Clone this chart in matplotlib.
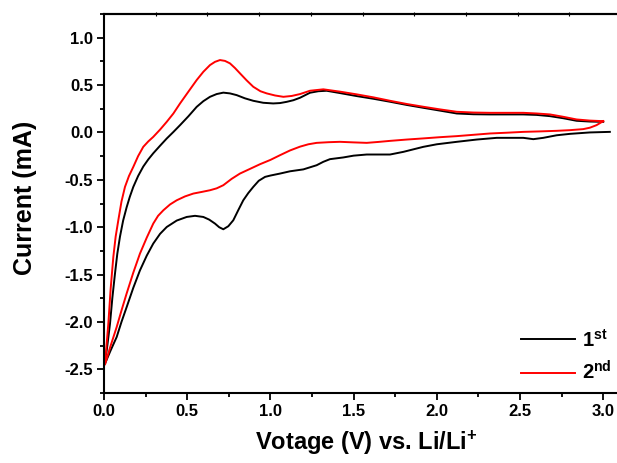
import matplotlib
matplotlib.use("Agg")
import matplotlib.pyplot as plt
import numpy as np

plt.rcParams['font.family'] = ['Liberation Sans', 'DejaVu Sans']
plt.rcParams['font.weight'] = 'bold'
plt.rcParams['mathtext.fontset'] = 'custom'
plt.rcParams['mathtext.rm'] = 'Liberation Sans:bold'
plt.rcParams['mathtext.bf'] = 'Liberation Sans:bold'
plt.rcParams['mathtext.it'] = 'Liberation Sans:bold'

# ---- data: 1st cycle (black) ----
c1_cath_v = [3.04, 2.92, 2.80, 2.72, 2.64, 2.58, 2.52, 2.36, 2.24, 2.12, 2.0, 1.919, 1.799,
             1.719, 1.579, 1.50, 1.438, 1.358, 1.318, 1.278, 1.198, 1.118, 1.058, 1.0,
             0.968, 0.93, 0.897, 0.867, 0.837, 0.807, 0.777, 0.747, 0.717, 0.692, 0.667,
             0.632, 0.597, 0.547, 0.497, 0.437, 0.377, 0.337, 0.296, 0.257, 0.216, 0.176,
             0.136, 0.105, 0.076, 0.04, 0.006]
c1_cath_i = [0.006, 0.0, -0.015, -0.03, -0.057, -0.071, -0.057, -0.057, -0.075, -0.099,
             -0.125, -0.152, -0.205, -0.233, -0.233, -0.245, -0.264, -0.282, -0.31, -0.346,
             -0.39, -0.41, -0.434, -0.455, -0.469, -0.51, -0.575, -0.64, -0.716, -0.82,
             -0.927, -0.99, -1.022, -1.0, -0.962, -0.92, -0.892, -0.88, -0.892, -0.93,
             -0.998, -1.07, -1.173, -1.30, -1.456, -1.64, -1.844, -2.0, -2.16, -2.30, -2.44]
c1_anod_v = [0.006, 0.02, 0.036, 0.05, 0.066, 0.08, 0.096, 0.115, 0.136, 0.155, 0.176, 0.205,
             0.236, 0.266, 0.296, 0.337, 0.377, 0.417, 0.457, 0.507, 0.557, 0.597, 0.637,
             0.677, 0.717, 0.757, 0.797, 0.847, 0.897, 0.957, 1.017, 1.058, 1.098, 1.138,
             1.178, 1.238, 1.288, 1.338, 1.42, 1.518, 1.62, 1.719, 1.82, 1.919, 2.02, 2.12,
             2.22, 2.32, 2.42, 2.52, 2.6, 2.68, 2.76, 2.84, 2.92, 3.0]
c1_anod_i = [-2.44, -2.25, -2.02, -1.75, -1.49, -1.28, -1.10, -0.93, -0.79, -0.68, -0.575,
             -0.46, -0.36, -0.285, -0.22, -0.14, -0.064, 0.005, 0.077, 0.17, 0.27, 0.33,
             0.376, 0.405, 0.42, 0.412, 0.394, 0.36, 0.334, 0.313, 0.306, 0.31, 0.323, 0.34,
             0.366, 0.419, 0.435, 0.44, 0.415, 0.384, 0.355, 0.324, 0.29, 0.26, 0.23, 0.20,
             0.192, 0.19, 0.19, 0.19, 0.185, 0.172, 0.15, 0.123, 0.115, 0.112]

# ---- data: 2nd cycle (red) ----
c2_cath_v = [3.0, 2.96, 2.92, 2.88, 2.80, 2.72, 2.62, 2.52, 2.42, 2.32, 2.22, 2.12, 2.02,
             1.919, 1.82, 1.719, 1.65, 1.579, 1.50, 1.418, 1.35, 1.278, 1.228, 1.178, 1.118,
             1.058, 1.0, 0.938, 0.877, 0.817, 0.767, 0.717, 0.677, 0.637, 0.587, 0.537,
             0.487, 0.437, 0.397, 0.357, 0.325, 0.296, 0.257, 0.216, 0.176, 0.136, 0.105,
             0.076, 0.04, 0.006]
c2_cath_i = [0.119, 0.077, 0.05, 0.035, 0.024, 0.017, 0.011, 0.006, -0.003, -0.011, -0.025,
             -0.039, -0.05, -0.063, -0.075, -0.089, -0.10, -0.11, -0.105, -0.099, -0.103,
             -0.11, -0.125, -0.15, -0.19, -0.24, -0.29, -0.335, -0.385, -0.434, -0.49,
             -0.557, -0.59, -0.61, -0.628, -0.645, -0.675, -0.716, -0.76, -0.821, -0.88,
             -0.962, -1.11, -1.279, -1.48, -1.70, -1.88, -2.055, -2.25, -2.45]
c2_anod_v = [0.006, 0.015, 0.026, 0.04, 0.056, 0.07, 0.086, 0.105, 0.126, 0.15, 0.176, 0.205,
             0.236, 0.266, 0.296, 0.337, 0.377, 0.417, 0.457, 0.507, 0.557, 0.597, 0.637,
             0.667, 0.697, 0.727, 0.757, 0.787, 0.817, 0.857, 0.897, 0.94, 0.978, 1.028,
             1.078, 1.128, 1.178, 1.238, 1.318, 1.42, 1.518, 1.62, 1.719, 1.82, 1.919, 2.02,
             2.12, 2.22, 2.32, 2.42, 2.52, 2.6, 2.68, 2.76, 2.84, 2.92, 3.0]
c2_anod_i = [-2.45, -2.25, -2.02, -1.65, -1.315, -1.10, -0.927, -0.73, -0.575, -0.46, -0.364,
             -0.25, -0.152, -0.095, -0.047, 0.03, 0.112, 0.20, 0.306, 0.43, 0.553, 0.64,
             0.711, 0.745, 0.764, 0.755, 0.729, 0.68, 0.624, 0.55, 0.482, 0.435, 0.412, 0.39,
             0.376, 0.385, 0.405, 0.44, 0.455, 0.43, 0.402, 0.37, 0.334, 0.30, 0.271, 0.243,
             0.218, 0.21, 0.207, 0.207, 0.207, 0.2, 0.19, 0.165, 0.137, 0.125, 0.119]

x_ticks = [0.0, 0.5, 1.0, 1.5, 2.0, 2.5, 3.0]
y_ticks = [1.0, 0.5, 0.0, -0.5, -1.0, -1.5, -2.0, -2.5]

W, H = 617, 463
fig = plt.figure(figsize=(W / 100, H / 100), dpi=100)
ax_left, ax_right, ax_top, ax_bot = 104, 104 + 3.1 * 166.4, 14, 393
ax = fig.add_axes([ax_left / W, 1 - ax_bot / H, (ax_right - ax_left) / W, (ax_bot - ax_top) / H])

ax.plot(c1_cath_v + c1_anod_v[1:], c1_cath_i + c1_anod_i[1:], color='black', lw=1.4,
        label=r'1$^{\rm st}$')
ax.plot(c2_cath_v + c2_anod_v[1:], c2_cath_i + c2_anod_i[1:], color='#ff0000', lw=1.4,
        label=r'2$^{\rm nd}$')

ax.set_xlim(0, 3.1)
ax.set_ylim(-2.75, 1.25)
ax.set_xticks(x_ticks)
ax.set_xticklabels([f"{v:.1f}" for v in x_ticks])
ax.set_yticks(y_ticks)
ax.set_yticklabels([f"{v:.1f}" for v in y_ticks])
ax.set_xticks(np.arange(0.25, 3.1, 0.5), minor=True)
ax.set_yticks(np.arange(-2.75, 1.26, 0.5), minor=True)
ax.tick_params(which='major', direction='out', length=5, width=1.3, labelsize=12, pad=3)
ax.tick_params(which='minor', direction='out', length=3, width=1.3)
for lab in ax.get_xticklabels() + ax.get_yticklabels():
    lab.set_fontweight('bold')
for s in ['left', 'bottom', 'top']:
    ax.spines[s].set_linewidth(1.5)
ax.spines['right'].set_visible(False)

sec = ax.secondary_xaxis('top')
sec.set_xticks(np.arange(0.3107, 3.1, 0.3107))
sec.set_xticklabels([])
sec.tick_params(direction='inout', length=3, width=0.8)
sec.spines['top'].set_linewidth(1.5)

leg = ax.legend(loc='lower left', bbox_to_anchor=(0.773, -0.023), frameon=False,
                prop={'family': 'Liberation Sans', 'weight': 'bold', 'size': 14.5},
                handlelength=2.7, handletextpad=0.35, labelspacing=0.5)

fig.text(25 / W, 1 - 198 / H, 'Current (mA)', rotation=90, ha='center', va='center',
         fontsize=18, fontweight='bold')
fig.text(366 / W, 1 - 443 / H, r'Votage (V) vs. Li/Li$^{+}$', ha='center', va='center',
         fontsize=17, fontweight='bold')

fig.savefig('out.png', dpi=100)
